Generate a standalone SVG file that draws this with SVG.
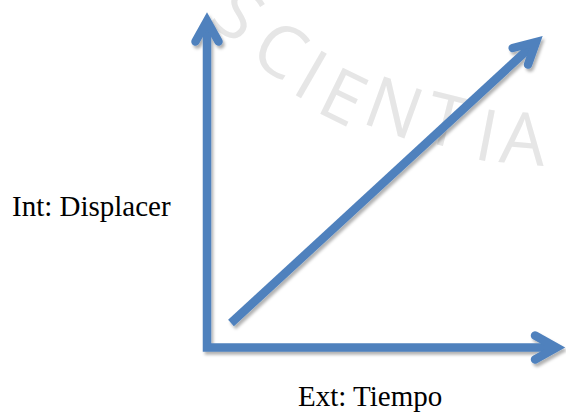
<svg xmlns="http://www.w3.org/2000/svg" width="566" height="413" viewBox="0 0 566 413">
  <defs>
    <filter id="shadow" x="-10%" y="-10%" width="130%" height="130%">
      <feDropShadow dx="2" dy="3" stdDeviation="1.8" flood-color="#000" flood-opacity="0.3"/>
    </filter>
    <style>
      .axis { fill: none; stroke: #4f81bd; stroke-width: 8.5; stroke-linejoin: miter; stroke-linecap: butt; }
      .head { fill: none; stroke: #4f81bd; stroke-width: 8.5; stroke-linejoin: miter; stroke-linecap: round; stroke-miterlimit: 6; }
      .label { font-family: "Liberation Serif", "Times New Roman", serif; font-size: 29px; fill: #000; }
      .wm { font-family: "Open Sans", "DejaVu Sans", sans-serif; font-weight: 400; font-size: 72px; fill: #e6e6e6; text-anchor: middle; }
    </style>
  </defs>
  <rect width="566" height="413" fill="#ffffff"/>

  <g id="watermark">
    <text class="wm" transform="translate(238,14) rotate(38)" x="0" y="25">S</text>
    <text class="wm" transform="translate(280,50) rotate(33)" x="0" y="25">C</text>
    <text class="wm" transform="translate(311,75) rotate(30)" x="0" y="25">I</text>
    <text class="wm" transform="translate(343,97) rotate(26)" x="0" y="25">E</text>
    <text class="wm" transform="translate(394,108) rotate(20)" x="0" y="25">N</text>
    <text class="wm" transform="translate(446,121) rotate(14)" x="0" y="25">T</text>
    <text class="wm" transform="translate(487,136) rotate(11)" x="0" y="25">I</text>
    <text class="wm" transform="translate(523,139) rotate(5)" x="0" y="25">A</text>
  </g>

  <g id="connectors" filter="url(#shadow)">
    <g id="axes">
      <path class="axis" d="M207,22 V347.5 H556"/>
      <path class="head" d="M195.5,41.5 L207,21 L218.5,41.5"/>
      <path class="head" d="M535,335.5 L556.5,347.5 L535,359.5"/>
    </g>
    <g id="diagonal">
      <path class="axis" d="M231,323 L536,42"/>
      <path class="head" d="M512.7,48 L536,42 L528,64.6"/>
    </g>
  </g>

  <g id="label-int">
    <text class="label" x="12" y="216">Int: Displacer</text>
  </g>
  <g id="label-ext">
    <text class="label" x="298" y="406">Ext: Tiempo</text>
  </g>
</svg>
